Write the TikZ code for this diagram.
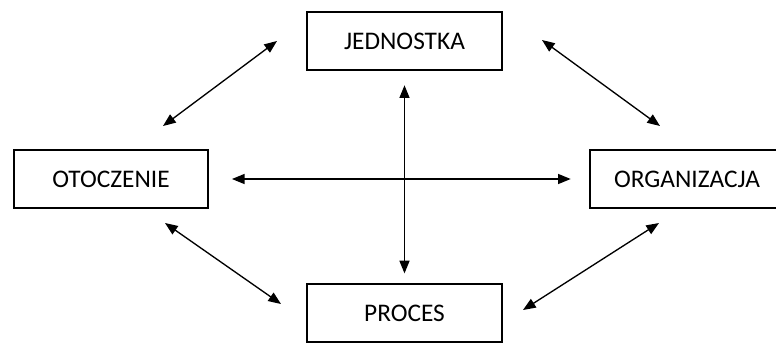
\documentclass[tikz,border=0pt]{standalone}
\usepackage{fontspec}
\setmainfont{Carlito}
\usetikzlibrary{arrows.meta}
\begin{document}
\begin{tikzpicture}[x=0.75pt,y=-0.75pt,
  box/.style={draw,line width=1.4pt,minimum width=146pt,minimum height=43pt,inner sep=0pt,font=\fontsize{19}{21}\selectfont},
  link/.style={line width=1pt,{Triangle[length=9.5pt,width=7.5pt]}-{Triangle[length=9.5pt,width=7.5pt]}}]
\useasboundingbox (0,0) rectangle (776,343);
\node[box] (jed) at (404.5,41) {JEDNOSTKA};
\node[box] (oto) at (111,179) {OTOCZENIE};
\node[box] (org) at (687,179) {ORGANIZACJA};
\node[box] (pro) at (404.5,313) {PROCES};
% diagonal arrow ends
\coordinate (tl1) at (163,126);
\coordinate (tl2) at (277,41);
\coordinate (tr1) at (542,40);
\coordinate (tr2) at (660,126);
\coordinate (bl1) at (165,223);
\coordinate (bl2) at (281,304);
\coordinate (br1) at (659,223);
\coordinate (br2) at (523,310);
\draw[link] (tl1) -- (tl2);
\draw[link] (tr1) -- (tr2);
\draw[link] (bl1) -- (bl2);
\draw[link] (br1) -- (br2);
\draw[link,shorten <=11pt,shorten >=7.5pt] (jed.south) -- (pro.north);
\draw[link,shorten <=17pt,shorten >=13.5pt] (oto.east) -- (org.west);
\end{tikzpicture}
\end{document}
